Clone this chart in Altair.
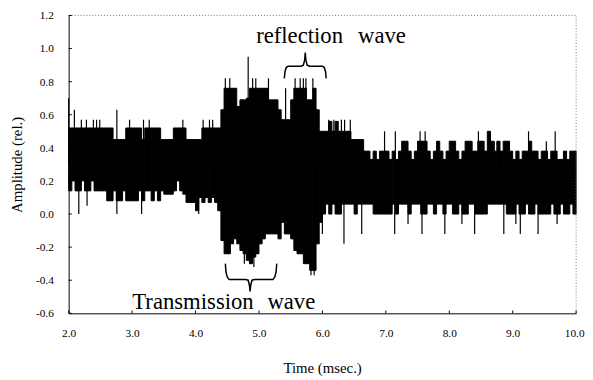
import altair as alt
import numpy as np
import pandas as pd

# ---------------- data ----------------
T_START = 2.0      # first bin start (ms)
BIN_MS = 0.05      # bin width (ms)

# upper / lower envelope of the dense waveform, one value per 0.05 ms bin
HI = [
    0.52, 0.52, 0.52, 0.52, 0.52, 0.52, 0.52, 0.52, 0.52, 0.52,
    0.52, 0.52, 0.52, 0.52, 0.45, 0.45, 0.45, 0.45, 0.52, 0.52,
    0.52, 0.52, 0.52, 0.45, 0.52, 0.52, 0.52, 0.52, 0.52, 0.45,
    0.45, 0.45, 0.45, 0.52, 0.52, 0.52, 0.52, 0.45, 0.45, 0.45,
    0.45, 0.45, 0.52, 0.52, 0.52, 0.52, 0.52, 0.52, 0.63, 0.76,
    0.76, 0.76, 0.76, 0.65, 0.69, 0.69, 0.70, 0.76, 0.76, 0.76,
    0.76, 0.76, 0.76, 0.69, 0.69, 0.69, 0.63, 0.57, 0.57, 0.57,
    0.69, 0.76, 0.76, 0.76, 0.76, 0.69, 0.69, 0.76, 0.63, 0.50,
    0.50, 0.50, 0.56, 0.50, 0.56, 0.50, 0.50, 0.50, 0.50, 0.45,
    0.45, 0.45, 0.45, 0.38, 0.38, 0.33, 0.38, 0.33, 0.38, 0.38,
    0.38, 0.33, 0.38, 0.33, 0.38, 0.44, 0.44, 0.38, 0.33, 0.38,
    0.44, 0.44, 0.44, 0.38, 0.33, 0.38, 0.44, 0.38, 0.33, 0.38,
    0.44, 0.44, 0.38, 0.33, 0.38, 0.44, 0.44, 0.38, 0.38, 0.44,
    0.44, 0.38, 0.50, 0.44, 0.38, 0.44, 0.38, 0.44, 0.44, 0.38,
    0.33, 0.38, 0.33, 0.38, 0.38, 0.44, 0.38, 0.38, 0.33, 0.38,
    0.38, 0.33, 0.38, 0.38, 0.33, 0.33, 0.38, 0.33, 0.38, 0.38,
]
LO = [
    0.14, 0.20, 0.14, 0.14, 0.20, 0.14, 0.14, 0.20, 0.14, 0.14,
    0.14, 0.14, 0.08, 0.08, 0.14, 0.08, 0.08, 0.14, 0.08, 0.08,
    0.08, 0.08, 0.14, 0.08, 0.14, 0.14, 0.08, 0.14, 0.08, 0.14,
    0.12, 0.12, 0.12, 0.14, 0.20, 0.14, 0.12, 0.07, 0.07, 0.07,
    0.02, 0.10, 0.07, 0.10, 0.07, 0.10, 0.07, 0.02, -0.16, -0.24,
    -0.24, -0.18, -0.15, -0.18, -0.22, -0.24, -0.28, -0.30, -0.26, -0.24,
    -0.18, -0.15, -0.12, -0.12, -0.12, -0.12, -0.15, -0.05, -0.12, -0.12,
    -0.15, -0.22, -0.24, -0.24, -0.30, -0.30, -0.34, -0.34, -0.18, -0.05,
    0.00, 0.06, 0.00, 0.06, 0.00, 0.00, 0.06, 0.06, 0.06, 0.06,
    0.00, 0.06, 0.06, 0.06, 0.06, 0.06, 0.00, 0.00, 0.00, 0.00,
    0.00, 0.00, 0.06, 0.00, 0.06, 0.06, 0.06, 0.00, 0.06, 0.06,
    0.06, 0.00, 0.00, 0.06, 0.06, 0.00, 0.06, 0.06, 0.00, 0.06,
    0.06, 0.00, 0.00, 0.06, 0.00, 0.00, 0.06, 0.06, 0.00, 0.00,
    0.00, 0.00, 0.06, 0.06, 0.06, 0.06, 0.06, 0.06, 0.00, 0.00,
    0.00, 0.06, 0.00, 0.00, 0.06, 0.00, 0.00, 0.06, 0.00, 0.00,
    0.00, 0.00, 0.06, 0.00, 0.00, 0.06, 0.00, 0.00, 0.06, 0.00,
]

# thin isolated peaks above the envelope
SPIKE_UP_T = [2.00, 2.09, 2.20, 2.28, 2.39, 2.44, 2.49, 2.76, 2.96, 3.18,
              3.27, 3.80, 4.12, 4.22, 4.27, 4.47, 4.54, 4.83, 4.90, 4.95,
              5.15, 5.42, 5.57, 5.65, 5.70, 5.74, 5.85, 6.10, 6.18, 6.30,
              6.35, 6.44, 6.98, 7.15, 7.54, 7.62, 8.46, 8.63, 9.25, 9.67,
              7.32, 7.82, 8.05, 8.36, 8.71, 8.91, 9.53]
SPIKE_UP_V = [0.70, 0.63, 0.57, 0.57, 0.57, 0.57, 0.57, 0.63, 0.57, 0.57,
              0.57, 0.57, 0.57, 0.57, 0.57, 0.82, 0.82, 0.95, 0.82, 0.82,
              0.82, 0.76, 0.82, 0.82, 0.82, 0.82, 0.82, 0.57, 0.57, 0.57,
              0.57, 0.57, 0.50, 0.50, 0.50, 0.50, 0.50, 0.50, 0.50, 0.50,
              0.44, 0.44, 0.44, 0.44, 0.44, 0.44, 0.44]
# thin isolated dips below the envelope
SPIKE_DN_T = [2.16, 2.29, 2.76, 3.15, 4.05, 4.77, 4.92, 5.82, 5.87, 6.00,
              6.34, 6.62, 7.14, 7.35, 7.57, 7.93, 8.20, 8.40, 8.86, 9.05,
              9.12, 9.40, 9.70]
SPIKE_DN_V = [0.00, 0.05, 0.00, 0.00, 0.00, -0.30, -0.32, -0.37, -0.37, -0.12,
              -0.18, -0.12, -0.12, -0.06, -0.12, -0.12, -0.06, -0.12, -0.12, -0.06,
              -0.12, -0.12, -0.06]

X_TICKS = [2.0, 3.0, 4.0, 5.0, 6.0, 7.0, 8.0, 9.0, 10.0]
Y_TICKS = [-0.6, -0.4, -0.2, 0.0, 0.2, 0.4, 0.6, 0.8, 1.0, 1.2]
Y_LABELS = ["-0.6", "-0.4", "-0.2", "0.0", "0.2", "0.4", "0.6", "0.8", "1.0", "1.2"]

ANN_TEXT = ["reflection", "wave", "Transmission", "wave"]
ANN_T = [5.64, 6.94, 3.96, 5.51]
ANN_V = [1.033, 1.033, -0.574, -0.574]

# curly braces (annotation outlines)
BRACE_TOP_T = [5.40, 5.41, 5.43, 5.46, 5.66, 5.70, 5.72, 5.73, 5.74, 5.76, 5.80, 6.00, 6.03, 6.05, 6.06]
BRACE_TOP_V = [0.82, 0.86, 0.885, 0.893, 0.893, 0.90, 0.93, 0.976, 0.93, 0.90, 0.893, 0.893, 0.885, 0.86, 0.82]
BRACE_BOT_T = [4.47, 4.48, 4.50, 4.53, 4.79, 4.83, 4.85, 4.86, 4.87, 4.89, 4.93, 5.22, 5.25, 5.27, 5.28]
BRACE_BOT_V = [-0.30, -0.35, -0.38, -0.396, -0.396, -0.40, -0.43, -0.467, -0.43, -0.40, -0.396, -0.396, -0.38, -0.35, -0.30]

# ---------------- tables ----------------
t0 = T_START + BIN_MS * np.arange(len(HI))
core = pd.DataFrame({"t0": t0, "t1": t0 + BIN_MS, "lo": LO, "hi": HI})
spikes = pd.DataFrame({"t": SPIKE_UP_T + SPIKE_DN_T, "v": SPIKE_UP_V + SPIKE_DN_V})
ann = pd.DataFrame({"txt": ANN_TEXT, "t": ANN_T, "v": ANN_V})
braces = pd.DataFrame({
    "t": BRACE_TOP_T + BRACE_BOT_T,
    "v": BRACE_TOP_V + BRACE_BOT_V,
    "b": ["top"] * len(BRACE_TOP_T) + ["bot"] * len(BRACE_BOT_T),
    "i": list(range(len(BRACE_TOP_T))) + list(range(len(BRACE_BOT_T))),
})
xt = pd.DataFrame({"t": X_TICKS})
yt = pd.DataFrame({"v": Y_TICKS, "lab": Y_LABELS})
one = pd.DataFrame({"a": [0]})

FONT = "Liberation Serif"
XT = "Time (msec.)"
YT = "Amplitude (rel.)"
xs = alt.Scale(domain=[2, 10], nice=False, zero=False)
ys = alt.Scale(domain=[-0.6, 1.2], nice=False, zero=False)

xaxis = alt.Axis(values=X_TICKS, format=".1f", ticks=False, grid=False, labelOverlap=False,
                 labelPadding=15, labelFont=FONT, labelFontSize=11.5, labelColor="black",
                 labelFlush=False,
                 labelOffset={"condition": {"test": "datum.value == 10", "value": -2}, "value": 0},
                 domainColor="black", domainWidth=1,
                 titleFont=FONT, titleFontSize=15, titleFontWeight="normal", titleColor="black",
                 titleX=257, titleY=60, titleBaseline="alphabetic", titleAlign="center")
yaxis = alt.Axis(values=Y_TICKS, ticks=False, grid=False, labels=False,
                 domainColor="black", domainWidth=1,
                 titleFont=FONT, titleFontSize=15, titleFontWeight="normal", titleColor="black",
                 titleAngle=270, titleX=-47.5, titleY=151, titleBaseline="alphabetic",
                 titleAlign="center")


def X(field):
    return alt.X(field, scale=xs, axis=xaxis, title=XT)


def Y(field):
    return alt.Y(field, scale=ys, axis=yaxis, title=YT)


core_layer = alt.Chart(core).mark_rect(color="black", stroke="black", strokeWidth=1).encode(
    x=X("t0:Q"), x2="t1:Q", y=Y("lo:Q"), y2="hi:Q",
)

spike_layer = alt.Chart(spikes).mark_rule(color="black", strokeWidth=1.2).encode(
    x=X("t:Q"), y=Y("v:Q"), y2=alt.datum(0.3),
)

top_frame = alt.Chart(one).mark_rule(color="#777777", strokeDash=[1, 2], strokeWidth=1).encode(
    x=alt.datum(2.0), x2=alt.datum(10.0), y=alt.datum(1.2))
right_frame = alt.Chart(one).mark_rule(color="#777777", strokeDash=[1, 2], strokeWidth=1).encode(
    x=alt.datum(10.0), y=alt.datum(-0.6), y2=alt.datum(1.2))

xtick_layer = alt.Chart(xt).mark_rule(color="black", strokeWidth=1).encode(
    x=X("t:Q"), y=alt.datum(-0.6), y2=alt.datum(-0.583))
ytick_layer = alt.Chart(yt).mark_rule(color="black", strokeWidth=1).encode(
    y=Y("v:Q"), x=alt.datum(2.0), x2=alt.datum(2.05))
ylabel_layer = alt.Chart(yt).mark_text(font=FONT, fontSize=11.5, color="black",
                                       align="right", baseline="middle", dx=-15, dy=1).encode(
    y=Y("v:Q"), x=alt.datum(2.0), text="lab:N")

text_layer = alt.Chart(ann).mark_text(font=FONT, fontSize=23, color="black",
                                      align="center", baseline="alphabetic").encode(
    x=X("t:Q"), y=Y("v:Q"), text="txt:N",
)

brace_layer = alt.Chart(braces).mark_line(color="black", strokeWidth=1.5).encode(
    x=X("t:Q"), y=Y("v:Q"), detail="b:N", order="i:Q",
)

chart = alt.layer(
    core_layer, spike_layer, top_frame, right_frame, xtick_layer, ytick_layer,
    ylabel_layer, text_layer, brace_layer,
).properties(
    width=514.5, height=302,
    padding={"left": 61.5, "top": 5, "right": 9, "bottom": 62},
    autosize=alt.AutoSizeParams(type="none"),
    background="white",
).configure_view(stroke=None)

chart.save("out.html", embed_options={"renderer": "svg", "actions": False})
